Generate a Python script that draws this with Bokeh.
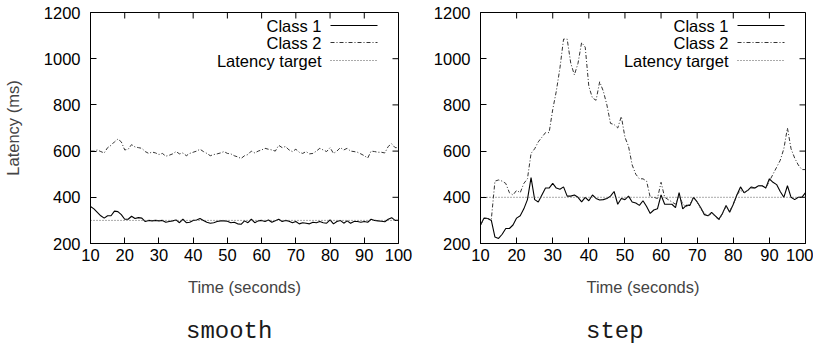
from bokeh.plotting import figure
from bokeh.models import Range1d, FixedTicker, Div
from bokeh.layouts import row, column
from bokeh.core.properties import value
from bokeh.embed import file_html
from bokeh.resources import INLINE

# ---------------- data ----------------
time_s = list(range(10, 101))

smooth_class1 = [360, 350, 335, 320, 310, 320, 320, 340, 338, 325,
                 305, 305, 318, 308, 312, 310, 295, 300, 298, 300,
                 298, 300, 292, 295, 298, 302, 290, 305, 290, 292,
                 300, 302, 308, 300, 292, 288, 290, 295, 298, 298,
                 296, 290, 292, 285, 283, 298, 290, 305, 290, 298,
                 300, 295, 302, 292, 298, 305, 295, 300, 296, 290,
                 295, 285, 290, 288, 285, 292, 290, 295, 290, 288,
                 302, 285, 295, 300, 288, 298, 288, 295, 295, 292,
                 295, 292, 305, 300, 298, 296, 294, 305, 312, 300,
                 300]
smooth_class2 = [600, 600, 605, 598, 592, 615, 625, 640, 652, 640,
                 605, 608, 628, 618, 615, 612, 598, 590, 596, 592,
                 585, 590, 578, 582, 588, 598, 588, 592, 580, 590,
                 595, 600, 608, 598, 590, 580, 585, 588, 592, 598,
                 590, 588, 580, 575, 568, 580, 585, 600, 592, 600,
                 605, 612, 608, 605, 600, 625, 615, 620, 605, 598,
                 608, 595, 590, 598, 588, 590, 600, 612, 605, 598,
                 615, 590, 600, 615, 605, 612, 600, 598, 595, 588,
                 580, 570, 600, 598, 595, 595, 592, 620, 632, 615,
                 615]
step_class1 = [280, 310, 308, 300, 228, 222, 240, 265, 265, 280,
               310, 320, 350, 390, 485, 390, 380, 410, 440, 440,
               460, 440, 435, 445, 405, 405, 410, 400, 380, 400,
               385, 410, 395, 388, 390, 395, 405, 425, 370, 395,
               390, 405, 380, 375, 365, 385, 360, 330, 345, 350,
               410, 370, 370, 370, 355, 420, 350, 365, 365, 400,
               380, 355, 325, 320, 335, 320, 305, 330, 365, 335,
               370, 410, 445, 420, 430, 445, 440, 450, 450, 440,
               480, 465, 455, 425, 400, 450, 400, 390, 400, 400,
               420]
step_class2 = [280, 310, 308, 305, 470, 475, 470, 460, 420, 410,
               430, 420, 460, 480, 590, 610, 640, 660, 680, 680,
               780, 860, 960, 1085, 1085, 980, 930, 980, 1070, 1050,
               880, 830, 820, 900, 860, 800, 720, 715, 700, 750,
               660, 620, 540, 500, 480, 480, 470, 400, 400, 395,
               465, 400, 390, 380, 370, 410, 370, 360, 370, 400,
               380, 350, 330, 320, 330, 320, 300, 330, 360, 340,
               370, 410, 430, 420, 430, 440, 440, 450, 450, 440,
               470, 500, 530, 560, 610, 700, 610, 570, 540, 520,
               520]
smooth_target = 300
step_target = 400

x_ticks = [10, 20, 30, 40, 50, 60, 70, 80, 90, 100]
y_ticks = [200, 400, 600, 800, 1000, 1200]
legend_labels = ["Class 1", "Class 2", "Latency target"]
captions = ["smooth", "step"]

X_MIN, X_MAX = 10, 100
Y_MIN, Y_MAX = 200, 1200

FONT = "Liberation Sans"
FS = "16.5px"
FIG_H = 302
BORDER_TOP = 12
FRAME_H = 231
TICK_LEN = 6

S_C1 = dict(line_color="black", line_width=1.1)
S_C2 = dict(line_color="#333333", line_width=1.0, line_dash="4 2 1 2")
S_TG = dict(line_color="#555555", line_width=1.0, line_dash="1 2")


def style_axis(ax, ticks):
    ax.ticker = FixedTicker(ticks=ticks)
    ax.major_tick_in = TICK_LEN
    ax.major_tick_out = 0
    ax.minor_tick_line_color = None
    ax.axis_line_color = "black"
    ax.major_tick_line_color = "black"
    ax.major_label_text_font = FONT
    ax.major_label_text_font_size = FS
    ax.major_label_text_color = "black"


def make_panel(width, border_left, border_right, c1, c2, target, ylabel):
    p = figure(width=width, height=FIG_H,
               x_range=Range1d(X_MIN, X_MAX), y_range=Range1d(Y_MIN, Y_MAX),
               output_backend="svg", toolbar_location=None,
               min_border_left=border_left, min_border_right=border_right,
               min_border_top=BORDER_TOP,
               min_border_bottom=FIG_H - BORDER_TOP - FRAME_H)
    p.background_fill_color = "white"
    p.border_fill_color = "white"
    p.outline_line_color = "black"
    p.grid.visible = False

    style_axis(p.xaxis[0], x_ticks)
    p.xaxis[0].major_label_standoff = 5
    p.xaxis[0].axis_label = "Time (seconds)"
    p.xaxis[0].axis_label_text_font = FONT
    p.xaxis[0].axis_label_text_font_size = FS
    p.xaxis[0].axis_label_text_font_style = "normal"
    p.xaxis[0].axis_label_standoff = 14

    style_axis(p.yaxis[0], y_ticks)
    p.yaxis[0].major_label_standoff = 10
    if ylabel:
        p.yaxis[0].axis_label = ylabel
        p.yaxis[0].axis_label_text_font = FONT
        p.yaxis[0].axis_label_text_font_size = FS
        p.yaxis[0].axis_label_text_font_style = "normal"
        p.yaxis[0].axis_label_standoff = 19

    frame_w = width - border_left - border_right
    dx_px = (X_MAX - X_MIN) / frame_w
    dy_px = (Y_MAX - Y_MIN) / FRAME_H

    # mirrored inward ticks on top and right edges (gnuplot style)
    p.segment(x0=x_ticks, y0=[Y_MAX] * len(x_ticks), x1=x_ticks,
              y1=[Y_MAX - TICK_LEN * dy_px] * len(x_ticks),
              line_color="black", line_width=1)
    p.segment(x0=[X_MAX] * len(y_ticks), y0=y_ticks,
              x1=[X_MAX - TICK_LEN * dx_px] * len(y_ticks), y1=y_ticks,
              line_color="black", line_width=1)

    # series
    p.line(time_s, c1, **S_C1)
    p.line(time_s, c2, **S_C2)
    p.line([X_MIN, X_MAX], [target, target], **S_TG)

    # gnuplot-style key (text right-aligned, sample to its right)
    px_to_x = lambda px: X_MAX - px * dx_px
    py_to_y = lambda py: Y_MAX - py * dy_px
    rows_py = [13, 30, 48]
    styles = [S_C1, S_C2, S_TG]
    ys = [py_to_y(v) for v in rows_py]
    p.text(x=[px_to_x(77)] * 3, y=ys, text=legend_labels,
           text_align="right", text_baseline="middle",
           text_font=value(FONT), text_font_size=FS, text_color="black")
    for yy, st in zip(ys, styles):
        p.line([px_to_x(68), px_to_x(21)], [yy, yy], **st)
    return p


def caption_div(text, width, left):
    return Div(text=text, width=width - left, height=21,
               margin=(19, 0, 0, left),
               styles={"font-family": "Liberation Mono", "font-size": "24px",
                       "line-height": "21px", "color": "#1a1a1a",
                       "white-space": "nowrap", "overflow": "visible"})


W1, W2 = 417, 396
p1 = make_panel(W1, 90, 19, smooth_class1, smooth_class2, smooth_target,
                "Latency (ms)")
p2 = make_panel(W2, 63, 8, step_class1, step_class2, step_target, None)

d1 = caption_div(captions[0], W1, 186)
d2 = caption_div(captions[1], W2, 169)

layout = column(row(p1, p2), row(d1, d2))
open("out.html", "w").write(file_html(layout, INLINE))
